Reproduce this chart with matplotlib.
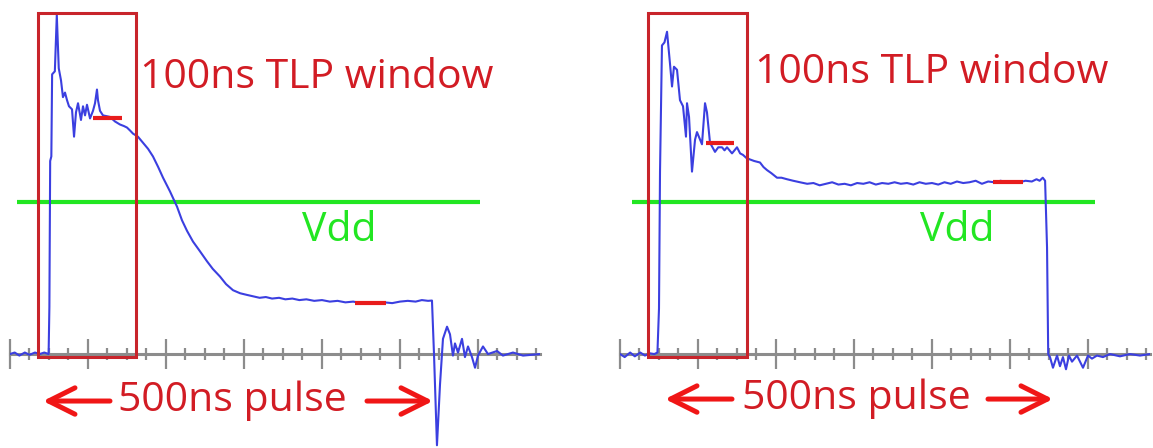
"""
TLP waveforms: 500 ns pulse compared with the 100 ns TLP measurement window.
Two scope captures side by side, time in ns, voltage normalised to Vdd.
"""

import matplotlib

matplotlib.use("Agg")

import matplotlib.pyplot as plt
from matplotlib.patches import Rectangle
from matplotlib.ticker import MultipleLocator

VDD = 1.0

# Left capture: clamp recovers and drops well below Vdd during the pulse
LEFT_T = [0, 6, 12, 19, 25, 32, 38, 44, 49.5, 50.5, 51.5, 53, 54, 57.5, 60,
          62.5, 65.4, 67.9, 70.5, 73.1, 75.6, 79.5, 82.1, 84.6, 87.2, 91, 93.6,
          96.2, 98.7, 102.6, 106.4, 109, 111.5, 112.8, 115.4, 119.2, 128.2,
          134.6, 141, 146, 150, 154, 157.7, 164, 170.5, 177, 183.3, 190, 196.2,
          205.1, 214.1, 220.5, 227, 234.6, 243, 252.6, 260, 269.2, 277, 285.9,
          295, 303, 311.5, 320, 328, 336, 345, 353, 362, 371, 380, 390, 400,
          410, 420, 430, 440, 450, 460, 470, 480, 490, 500, 510, 520, 528, 536,
          541, 543.6, 547.4, 551.3, 555.1, 560.3, 564.1, 567.9, 570.5, 574.4,
          579.5, 583.3, 587.2, 592.3, 596.2, 600, 606.4, 612.8, 624.4, 632,
          644.9, 657.7, 679.5]
LEFT_V = [0.0, 0.01, -0.01, 0.01, -0.005, 0.01, 0.0, 0.01, 0.0, 0.31, 1.27,
          1.3, 1.84, 1.86, 2.23, 1.88, 1.80, 1.69, 1.72, 1.67, 1.63, 1.61,
          1.43, 1.59, 1.65, 1.54, 1.63, 1.57, 1.64, 1.55, 1.60, 1.65, 1.74,
          1.67, 1.60, 1.57, 1.56, 1.53, 1.51, 1.50, 1.49, 1.47, 1.45, 1.43,
          1.39, 1.35, 1.30, 1.23, 1.16, 1.07, 0.97, 0.88, 0.81, 0.74, 0.68,
          0.61, 0.56, 0.51, 0.46, 0.42, 0.40, 0.39, 0.38, 0.37, 0.375, 0.365,
          0.37, 0.36, 0.365, 0.355, 0.36, 0.35, 0.355, 0.345, 0.35, 0.34,
          0.345, 0.335, 0.34, 0.335, 0.34, 0.335, 0.345, 0.35, 0.345, 0.355,
          0.35, 0.352, 0.0, -0.6, -0.2, 0.1, 0.18, 0.13, -0.01, 0.07, 0.01,
          0.10, -0.02, 0.05, -0.02, -0.09, -0.01, 0.05, 0.0, 0.02, -0.01,
          0.01, -0.01, 0.0]

# Right capture: device stays above Vdd for the whole 500 ns
RIGHT_T = [0, 6, 13, 19, 26, 32, 38, 44, 48, 50, 51.3, 53.8, 57, 60.3, 64.1,
           66.7, 69.2, 73.1, 76.9, 80.8, 84.6, 85.9, 88.5, 92.3, 96.2, 98.7,
           105.1, 109, 111.5, 115.4, 121.8, 126, 130.8, 134, 137.2, 143.6, 150,
           154, 157.7, 162, 166.7, 172, 179.5, 184, 188.5, 194, 201.3, 207,
           214.1, 222, 230.8, 240, 248, 256, 264, 272, 280, 288, 296, 304, 312,
           320, 328, 336, 344, 352, 360, 368, 376, 384, 392, 400, 408, 416, 424,
           432, 440, 448, 456, 464, 472, 480, 488, 496, 504, 512, 520, 528, 534,
           538, 542, 545, 547.5, 549, 551.3, 555.1, 560.3, 564.1, 567.9, 571.8,
           575.6, 579.5, 585.9, 593.6, 600, 605.1, 611.5, 619.2, 628.2, 641,
           653.8, 666.7, 679.5]
RIGHT_V = [0.0, -0.02, 0.01, -0.015, 0.01, -0.01, 0.005, 0.0, 0.01, 0.3, 1.2,
           2.03, 2.05, 2.12, 1.91, 1.76, 1.89, 1.87, 1.67, 1.63, 1.43, 1.65,
           1.56, 1.20, 1.41, 1.46, 1.38, 1.65, 1.59, 1.39, 1.33, 1.36, 1.36,
           1.34, 1.36, 1.32, 1.36, 1.32, 1.31, 1.29, 1.28, 1.27, 1.26, 1.23,
           1.21, 1.19, 1.16, 1.16, 1.15, 1.14, 1.13, 1.12, 1.125, 1.11, 1.12,
           1.13, 1.115, 1.12, 1.11, 1.125, 1.12, 1.13, 1.115, 1.125, 1.12, 1.13,
           1.12, 1.125, 1.115, 1.13, 1.12, 1.125, 1.115, 1.13, 1.12, 1.135,
           1.125, 1.13, 1.14, 1.12, 1.135, 1.13, 1.14, 1.13, 1.135, 1.13, 1.14,
           1.135, 1.15, 1.14, 1.16, 1.14, 0.70, 0.0, -0.02, -0.09, -0.01,
           -0.08, -0.02, -0.10, -0.01, -0.05, -0.01, -0.09, -0.01, -0.03,
           -0.01, -0.02, 0.0, -0.015, 0.0, -0.01, 0.0]

# Averaging windows (start ns, end ns, level)
LEFT_WINDOWS = [(106, 144, 1.55), (442, 482, 0.336)]
RIGHT_WINDOWS = [(110, 146, 1.39), (478, 517, 1.13)]

# 100 ns TLP window box (start, end) and Vdd line extent, per capture
LEFT_BOX = (36, 161)
RIGHT_BOX = (36, 163)
LEFT_VDD_SPAN = (9, 602)
RIGHT_VDD_SPAN = (15, 609)

TRACE_COLOR = "#3b3fe0"
BOX_COLOR = "#c8242b"
MARK_COLOR = "#e81c1c"
VDD_COLOR = "#22e622"
TEXT_RED = "#d21c24"
ARROW_RED = "#f01616"
AXIS_GRAY = "#8c8c8c"

FONT = "Open Sans"
FS = 29.5

W, H = 1153, 448
T_MAX = 679.5
V_MIN, V_MAX = -0.618, 2.329


def draw_capture(ax, t, v, windows, box, vdd_span, labels):
    ax.set_xlim(0, T_MAX)
    ax.set_ylim(V_MIN, V_MAX)
    ax.set_facecolor("none")

    # scope time axis through 0 V
    for side in ("left", "right", "top"):
        ax.spines[side].set_visible(False)
    ax.spines["bottom"].set_position(("data", 0))
    ax.spines["bottom"].set_color(AXIS_GRAY)
    ax.spines["bottom"].set_linewidth(2.2)
    ax.spines["bottom"].set_zorder(1)
    ax.xaxis.set_major_locator(MultipleLocator(100))
    ax.xaxis.set_minor_locator(MultipleLocator(25))
    ax.tick_params(axis="x", which="major", direction="inout", length=21,
                   width=1.6, color=AXIS_GRAY, labelbottom=False)
    ax.tick_params(axis="x", which="minor", direction="inout", length=9,
                   width=1.6, color=AXIS_GRAY)
    ax.set_yticks([])

    ax.hlines(VDD, vdd_span[0], vdd_span[1], color=VDD_COLOR, lw=3.0, zorder=2)

    ax.plot(t, v, color=TRACE_COLOR, lw=1.5, zorder=3)

    ax.add_patch(Rectangle((box[0], -0.02), box[1] - box[0], 2.263,
                           fill=False, edgecolor=BOX_COLOR, lw=2.2, zorder=4))

    for start, end, level in windows:
        ax.hlines(level, start, end, color=MARK_COLOR, lw=3.0, zorder=5)

    (tlp_x, tlp_y), (vdd_x, vdd_y), (pulse_x, pulse_y), arrows = labels
    ax.text(tlp_x, tlp_y, "100ns TLP window", color=TEXT_RED, family=FONT,
            fontsize=FS, ha="left", va="baseline", clip_on=False)
    ax.text(vdd_x, vdd_y, "Vdd", color=VDD_COLOR, family=FONT,
            fontsize=FS, ha="left", va="baseline", clip_on=False)
    ax.text(pulse_x, pulse_y, "500ns pulse", color=TEXT_RED, family=FONT,
            fontsize=FS, ha="left", va="baseline", clip_on=False)

    for tip, tail, level in arrows:
        ax.annotate("", xy=(tip, level), xytext=(tail, level),
                    arrowprops=dict(arrowstyle="->,head_length=1.9,head_width=0.95",
                                    color=ARROW_RED, lw=3.6,
                                    shrinkA=0, shrinkB=0),
                    annotation_clip=False)


def main():
    fig = plt.figure(figsize=(W / 100, H / 100), dpi=100)
    fig.patch.set_facecolor("white")

    ax_l = fig.add_axes([10 / W, 0, 530 / W, 1])
    ax_r = fig.add_axes([620 / W, 0, 530 / W, 1])

    draw_capture(
        ax_l, LEFT_T, LEFT_V, LEFT_WINDOWS, LEFT_BOX, LEFT_VDD_SPAN,
        ((166.7, 1.75), (374, 0.743), (138.5, -0.375),
         [(42.3, 128.2, -0.309), (542.3, 457.7, -0.309)]),
    )
    draw_capture(
        ax_r, RIGHT_T, RIGHT_V, RIGHT_WINDOWS, RIGHT_BOX, RIGHT_VDD_SPAN,
        ((173, 1.783), (384.6, 0.743), (156.4, -0.362),
         [(57.7, 143.6, -0.296), (555.1, 471.8, -0.296)]),
    )

    fig.savefig("out.png", dpi=100, facecolor="white")
    plt.close(fig)


if __name__ == "__main__":
    main()
